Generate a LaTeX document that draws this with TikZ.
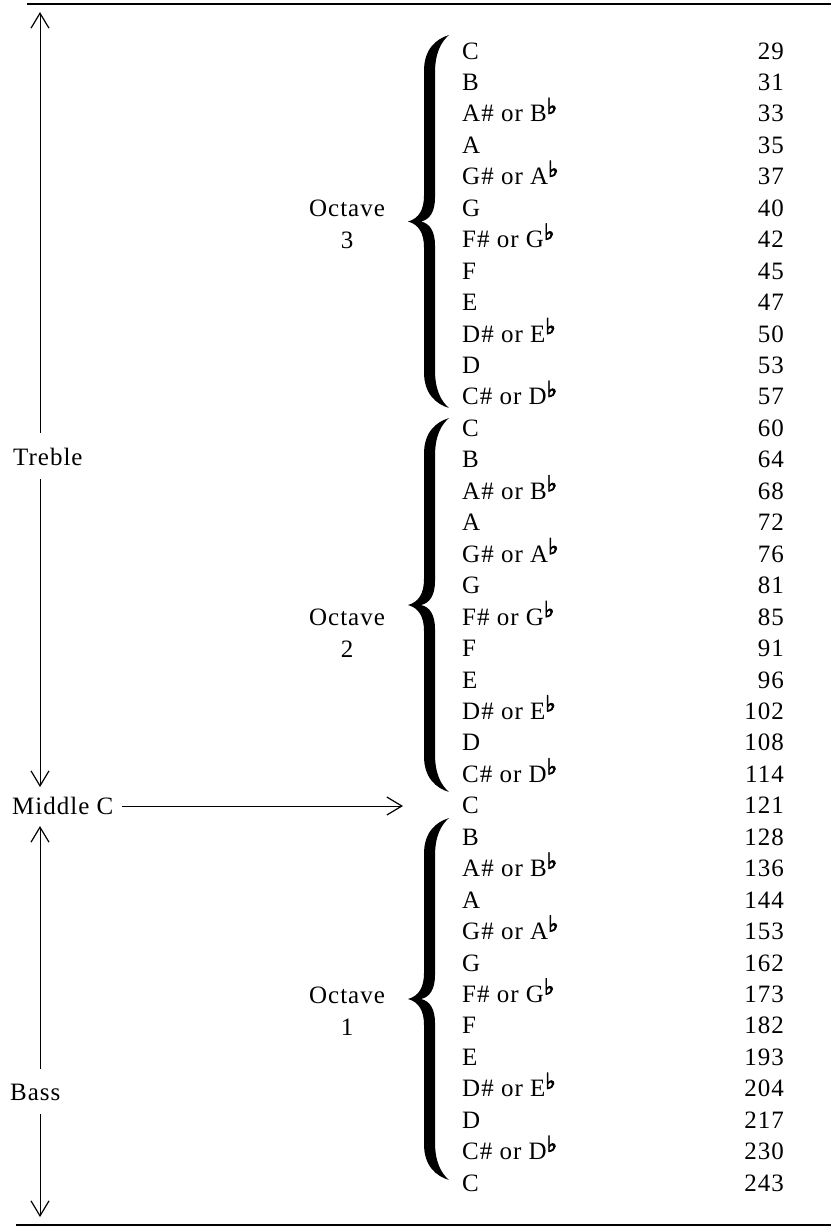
\documentclass[tikz,border=0pt]{standalone}
\usepackage{fontspec}
\setmainfont{Liberation Serif}[LetterSpace=4]
\newfontfamily\dejavu{DejaVu Sans}[FakeBold=3.5]
\usetikzlibrary{arrows.meta}
\newcommand\flt{\raisebox{8pt}{\dejavu\fontsize{22}{22}\selectfont ♭}}
\newcommand\OctBrace[2]{%
 \pgfmathsetmacro\brT{#1}\pgfmathsetmacro\brB{#2}\pgfmathsetmacro\brM{(#1+#2)/2}%
 \fill (449,\brT) .. controls (436,\brT+4) and (424,\brT+14) .. (424,\brT+36)
   -- (424,\brM-26) .. controls (424,\brM-12) and (419,\brM-3) .. (408,\brM)
   .. controls (419,\brM+3) and (424,\brM+12) .. (424,\brM+26)
   -- (424,\brB-36) .. controls (424,\brB-14) and (436,\brB-4) .. (449,\brB)
   .. controls (441,\brB-7) and (435,\brB-18) .. (435,\brB-38)
   -- (435,\brM+24) .. controls (435,\brM+10) and (430,\brM+2) .. (421,\brM)
   .. controls (430,\brM-2) and (435,\brM-10) .. (435,\brM-24)
   -- (435,\brT+38) .. controls (435,\brT+18) and (441,\brT+7) .. (449,\brT) -- cycle;}
\begin{document}
\begin{tikzpicture}[x=1pt,y=-1pt,
  txt/.style={font=\fontsize{25}{30}\selectfont, inner sep=0pt},
  side/.style={txt, inner xsep=0pt, inner ysep=14pt},
  arr/.style={line width=1pt},
  barb/.tip={Straight Barb[length=15pt,width=18pt,line width=1.2pt]},
  rule/.style={line width=2pt}]
\useasboundingbox (0,0) rectangle (831,1227);
% rules
\coordinate (tl) at (27,4);  \coordinate (tr) at (831,4);
\coordinate (bl) at (16,1225); \coordinate (br) at (831,1225);
\draw[rule] (tl) -- (tr);
\draw[rule] (bl) -- (br);
% notes and numbers
\foreach \n/\v [count=\i from 0] in {C/29, B/31, {A\# or B\flt}/33, A/35, {G\# or A\flt}/37, G/40, {F\# or G\flt}/42, F/45, E/47, {D\# or E\flt}/50, D/53, {C\# or D\flt}/57,
 C/60, B/64, {A\# or B\flt}/68, A/72, {G\# or A\flt}/76, G/81, {F\# or G\flt}/85, F/91, E/96, {D\# or E\flt}/102, D/108, {C\# or D\flt}/114,
 C/121, B/128, {A\# or B\flt}/136, A/144, {G\# or A\flt}/153, G/162, {F\# or G\flt}/173, F/182, E/193, {D\# or E\flt}/204, D/217, {C\# or D\flt}/230, C/243}
{
  \pgfmathsetmacro\yy{51+31.45*\i+8}
  \node[txt, anchor=base west] (n\i) at (462,\yy) {\n};
  \node[txt, anchor=base east] (v\i) at (784,\yy) {\v};
}
% octave labels
\node[txt, anchor=base] (o3) at (347,216) {Octave};
\node[txt, anchor=base] (o3n) at (347,248) {3};
\node[txt, anchor=base] (o2) at (347,625) {Octave};
\node[txt, anchor=base] (o2n) at (347,657) {2};
\node[txt, anchor=base] (o1) at (347,1003) {Octave};
\node[txt, anchor=base] (o1n) at (347,1035) {1};
% braces
\OctBrace{35}{408}
\OctBrace{418}{792}
\OctBrace{818}{1180}
% side labels
\node[side, anchor=base west] (treble) at (13,465) {Treble};
\node[side, anchor=base west] (bass) at (10,1100) {Bass};
\node[txt, anchor=base west] (midc) at (12,814) {Middle C};
\coordinate (trebtop) at (40,12);
\coordinate (trebbot) at (40,787);
\coordinate (basstop) at (40,826);
\coordinate (bassbot) at (40,1217);
\coordinate (mcend) at (403,806);
\draw[arr, barb-] (trebtop) -- (trebtop |- treble.north);
\draw[arr, -barb] (trebtop |- treble.south) -- (trebbot);
\draw[arr, barb-] (basstop) -- (basstop |- bass.north);
\draw[arr, -barb] (basstop |- bass.south) -- (bassbot);
\draw[arr, -barb] ([xshift=8pt]midc.east |- mcend) -- (mcend);
\end{tikzpicture}
\end{document}
